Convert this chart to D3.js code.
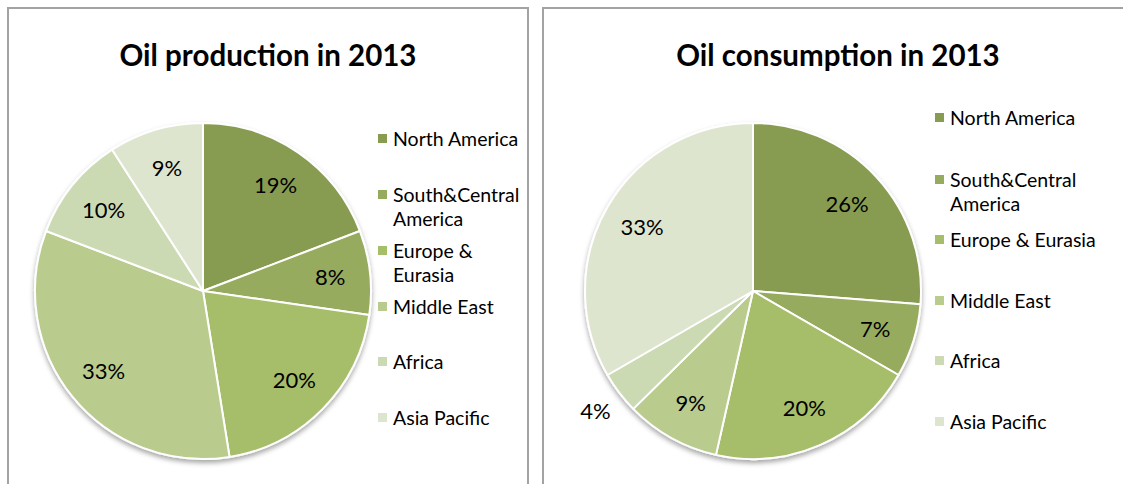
<!DOCTYPE html>
<html>
<head>
<meta charset="utf-8">
<script src="https://cdn.jsdelivr.net/npm/d3@7"></script>
<style>
  html, body { margin: 0; padding: 0; background: #fff; }
  svg { display: block; font-family: Lato, "Open Sans", sans-serif; }
</style>
</head>
<body>
<svg id="chart" width="1123" height="484"></svg>
<script>
// Regions shared by both pies
const regions = ["North America", "South&Central America", "Europe & Eurasia", "Middle East", "Africa", "Asia Pacific"];
// Share of world total, percent
const productionShare = [19, 8, 20, 33, 10, 9];
const consumptionShare = [26, 7, 20, 9, 4, 33];
// Slice colours per region
const regionColors = ["#879c51", "#97ab5e", "#a6bd69", "#b9cb8d", "#ccdab4", "#dee5cf"];
// Legend lines per region, for each panel
const productionLegendLines = [["North America"], ["South&Central", "America"], ["Europe &", "Eurasia"], ["Middle East"], ["Africa"], ["Asia Pacific"]];
const consumptionLegendLines = [["North America"], ["South&Central", "America"], ["Europe & Eurasia"], ["Middle East"], ["Africa"], ["Asia Pacific"]];

const svg = d3.select("#chart");

// soft shadow beneath each pie
const defs = svg.append("defs");
const f = defs.append("filter").attr("id", "pieShadow")
  .attr("x", "-10%").attr("y", "-10%").attr("width", "120%").attr("height", "125%");
f.append("feDropShadow").attr("dx", 0).attr("dy", 3).attr("stdDeviation", 2.5)
  .attr("flood-color", "#000").attr("flood-opacity", 0.35);

const color = d3.scaleOrdinal().domain(regions).range(regionColors);
const pie = d3.pie().sort(null).value(d => d.value);

function panel(cfg) {
  const g = svg.append("g");
  // panel frame
  g.append("rect")
    .attr("x", cfg.frame[0]).attr("y", 8)
    .attr("width", cfg.frame[1]).attr("height", 500)
    .attr("fill", "none").attr("stroke", "#a3a3a3").attr("stroke-width", 2);

  g.append("text")
    .attr("x", cfg.titleX).attr("y", 66)
    .attr("text-anchor", "middle")
    .attr("font-size", 29.5).attr("font-weight", 700).attr("fill", "#000")
    .text(cfg.title);

  const data = regions.map((r, i) => ({ region: r, value: cfg.values[i] }));
  const arcs = pie(data);
  const R = 168;
  const arc = d3.arc().innerRadius(0).outerRadius(R);
  const labelArc = d3.arc().innerRadius(128).outerRadius(128);
  const outerLabelArc = d3.arc().innerRadius(198).outerRadius(198);

  const pg = g.append("g").attr("transform", `translate(${cfg.cx},291)`);
  pg.append("g").attr("filter", "url(#pieShadow)")
    .selectAll("path").data(arcs).join("path")
    .attr("d", arc)
    .attr("fill", d => color(d.data.region))
    .attr("stroke", "#fff").attr("stroke-width", 2).attr("stroke-linejoin", "round");

  pg.selectAll("text.lbl").data(arcs).join("text")
    .attr("class", "lbl")
    .attr("transform", d => `translate(${(d.data.value < 5 ? outerLabelArc : labelArc).centroid(d)})`)
    .attr("text-anchor", "middle").attr("dy", "0.35em")
    .attr("font-size", 22).attr("fill", "#000")
    .text(d => d.data.value + "%");

  // legend
  const lg = g.append("g");
  cfg.legendLines.forEach((lines, i) => {
    const y = cfg.legendY[i];
    lg.append("rect").attr("x", cfg.legendX).attr("y", y - 5)
      .attr("width", 9).attr("height", 9).attr("fill", color(regions[i]));
    lines.forEach((t, j) => {
      lg.append("text").attr("x", cfg.legendX + 15).attr("y", y + j * 24)
        .attr("dy", "0.35em").attr("font-size", 19.5).attr("fill", "#000")
        .text(t);
    });
  });
}

panel({
  frame: [8, 520], title: "Oil production in 2013", titleX: 268, cx: 203,
  values: productionShare, legendLines: productionLegendLines,
  legendX: 378, legendY: [139, 195, 251, 307, 362, 418]
});
panel({
  frame: [543, 620], title: "Oil consumption in 2013", titleX: 838, cx: 753,
  values: consumptionShare, legendLines: consumptionLegendLines,
  legendX: 935, legendY: [118, 180, 240, 301, 361, 422]
});
</script>
</body>
</html>
